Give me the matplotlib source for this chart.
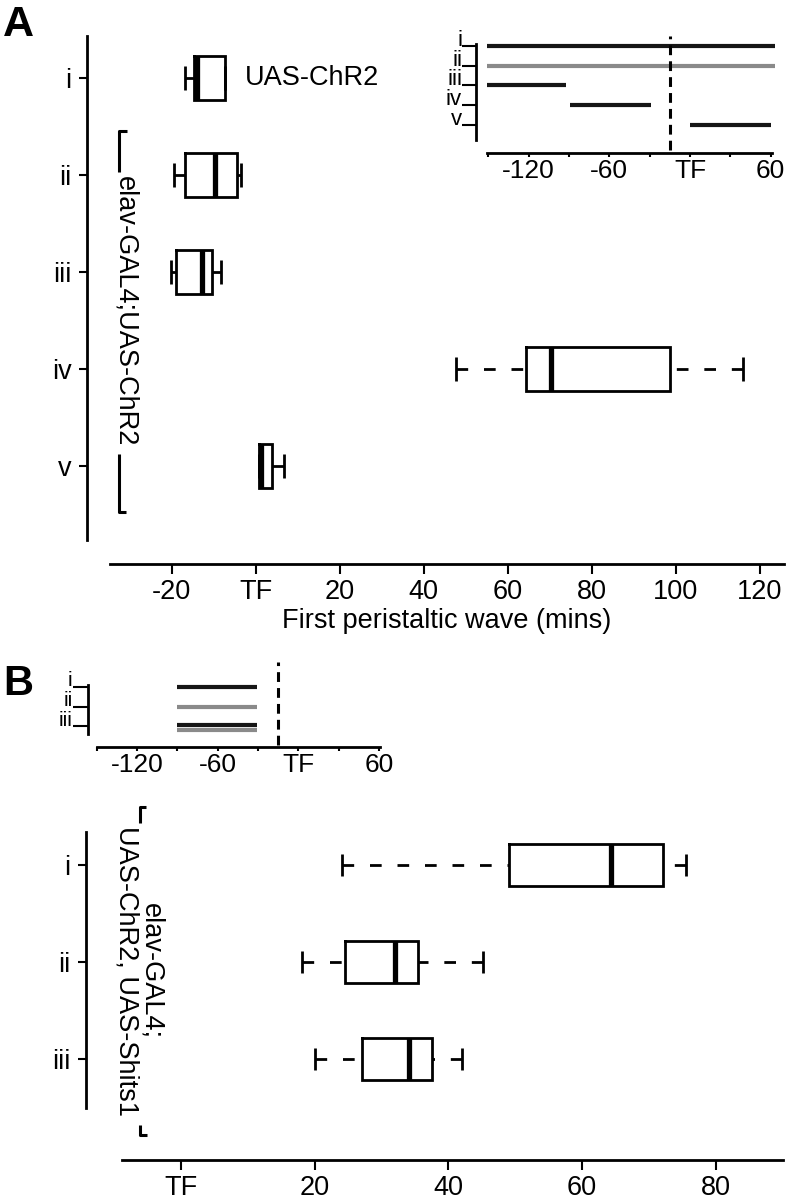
import matplotlib
matplotlib.use('Agg')
import matplotlib.pyplot as plt
from matplotlib.lines import Line2D

plt.rcParams['font.family'] = ['Liberation Sans', 'DejaVu Sans']

W, H = 792, 1200

# Panel A: first peristaltic wave, minutes relative to TF (box summaries)
a_rows = ['i', 'ii', 'iii', 'iv', 'v']
a_low = [-16.8, -19.4, -20.2, 47.7, 0.9]
a_q1 = [-14.7, -16.8, -19.0, 64.3, 0.9]
a_med = [-14.0, -9.7, -12.8, 70.2, 1.2]
a_q3 = [-7.3, -4.5, -10.4, 98.6, 3.8]
a_high = [-7.3, -3.6, -8.3, 116.1, 6.7]
a_xticks = [-20, 0, 20, 40, 60, 80, 100, 120]
a_xlabels = ['-20', 'TF', '20', '40', '60', '80', '100', '120']

# Panel A inset: stimulation windows (mins)
a_win_start = [-151, -151, -151, -89, 0]
a_win_end = [63, 63, -92, -29, 60]
a_win_color = ['#161616', '#8a8a8a', '#161616', '#161616', '#161616']

# Panel B
b_rows = ['i', 'ii', 'iii']
b_low = [24.0, 18.05, 20.0]
b_q1 = [49.0, 24.5, 27.0]
b_med = [64.3, 32.0, 34.1]
b_q3 = [72.1, 35.5, 37.6]
b_high = [75.6, 45.1, 42.0]
b_xticks = [0, 20, 40, 60, 80]
b_xlabels = ['TF', '20', '40', '60', '80']

# Panel B inset: windows (iii shows both a black and a grey bar)
b_win_row = [1, 2, 3, 3]
b_win_start = [-90.5, -90.5, -90.5, -90.5]
b_win_end = [-30.5, -30.5, -30.5, -30.5]
b_win_color = ['#161616', '#8a8a8a', '#161616', '#8a8a8a']
b_win_shift = [0.04, 0.04, -0.08, 0.17]

inset_xticks = [-150, -120, -90, -60, -30, 0, 30, 60]
inset_xlabels = ['', '-120', '', '-60', '', 'TF', '', '60']
stim_time = -15

FS = 19.5
fig = plt.figure(figsize=(W / 100, H / 100), dpi=100)


def px_axes(left, top, right, bottom):
    return fig.add_axes([left / W, 1 - bottom / H, (right - left) / W, (bottom - top) / H])


def px_line(xs, ys, lw=2.2):
    fig.add_artist(Line2D([x / W for x in xs], [1 - y / H for y in ys],
                          color='black', lw=lw, solid_capstyle='butt'))


def draw_boxes(ax, rows, lo, q1, med, q3, hi, width, capw):
    stats = [dict(label=r, whislo=a, q1=b, med=c, q3=d, whishi=e)
             for r, a, b, c, d, e in zip(rows, lo, q1, med, q3, hi)]
    kw = dict(positions=range(1, len(rows) + 1), widths=width, capwidths=capw,
              showfliers=False, manage_ticks=False,
              boxprops=dict(color='black', lw=2, solid_joinstyle='miter'),
              medianprops=dict(color='black', lw=3.8, solid_capstyle='butt'),
              whiskerprops=dict(color='black', lw=2, linestyle=(0, (4.2, 5.7))),
              capprops=dict(color='black', lw=2, solid_capstyle='butt'))
    try:
        res = ax.bxp(stats, orientation='horizontal', **kw)
    except TypeError:
        res = ax.bxp(stats, vert=False, **kw)
    # start dashes at the cap end, like R
    for wl in res['whiskers']:
        wl.set_xdata(list(wl.get_xdata())[::-1])
        wl.set_dash_capstyle('butt')
    return res


def style_axis(ax, left_out, bounds):
    for s in ['top', 'right']:
        ax.spines[s].set_visible(False)
    ax.spines['left'].set_position(('outward', left_out))
    ax.spines['left'].set_bounds(*bounds)
    for s in ['left', 'bottom']:
        ax.spines[s].set_linewidth(2)
    ax.set_facecolor('none')


# ---- Panel A main
ax = px_axes(110, 36, 784, 564)
draw_boxes(ax, a_rows, a_low, a_q1, a_med, a_q3, a_high, 0.46, 0.25)
ax.set_xlim(-34.7, 125.8)
ax.set_ylim(6.01, 0.567)
style_axis(ax, 16.6, (0.567, 5.763))
ax.set_yticks(range(1, 6))
ax.set_yticklabels(a_rows)
ax.set_xticks(a_xticks)
ax.set_xticklabels(a_xlabels)
ax.tick_params(axis='y', length=6, width=1.5, pad=5, labelsize=FS)
ax.tick_params(axis='x', length=7, width=1.5, pad=4, labelsize=FS)
ax.set_xlabel('First peristaltic wave (mins)', fontsize=FS, labelpad=2)
ax.text(-2.5, 1, 'UAS-ChR2', fontsize=FS, va='center', ha='left')

# ---- Panel A inset
ai = px_axes(485.7, 36, 773.3, 153)
for k in range(len(a_win_start)):
    ai.plot([a_win_start[k], a_win_end[k]], [k + 1, k + 1], color=a_win_color[k],
            lw=3, solid_capstyle='butt', clip_on=False)
ai.axvline(stim_time, ymin=0.026, ymax=1, color='black', lw=2.2,
           linestyle=(0, (3.2, 2.0)), zorder=5)
ai.set_xlim(-152, 62)
ai.set_ylim(6.418, 0.494)
style_axis(ai, 7, (0.9, 5.76))
ai.spines['bottom'].set_bounds(-151, 61)
ai.set_yticks(range(1, 6))
ai.set_yticklabels(a_rows)
ai.set_xticks(inset_xticks)
ai.set_xticklabels(inset_xlabels)
ai.tick_params(axis='y', length=10, width=1.5, pad=0, labelsize=16)
ai.tick_params(axis='x', length=3, width=1.5, pad=1, labelsize=19)
for lab in ai.get_yticklabels():
    lab.set_va('baseline')

# ---- Panel B inset
bi = px_axes(95.4, 661, 381, 747.3)
for k in range(len(b_win_row)):
    y = b_win_row[k] + b_win_shift[k]
    bi.plot([b_win_start[k], b_win_end[k]], [y, y], color=b_win_color[k],
            lw=3, solid_capstyle='butt', clip_on=False)
bi.axvline(stim_time, ymin=0.027, ymax=0.99, color='black', lw=2.2,
           linestyle=(0, (3.2, 2.0)), zorder=5)
bi.set_xlim(-151, 61.5)
bi.set_ylim(4.04, -0.275)
style_axis(bi, 5.5, (0.925, 3.375))
bi.spines['bottom'].set_bounds(-150, 61)
bi.set_yticks(range(1, 4))
bi.set_yticklabels(b_rows)
bi.set_xticks(inset_xticks)
bi.set_xticklabels(inset_xlabels)
bi.tick_params(axis='y', length=11, width=1.5, pad=0, labelsize=15)
bi.tick_params(axis='x', length=3, width=1.5, pad=1, labelsize=19)
for lab in bi.get_yticklabels():
    lab.set_va('baseline')

# ---- Panel B main
bx = px_axes(122, 832, 783, 1160)
draw_boxes(bx, b_rows, b_low, b_q1, b_med, b_q3, b_high, 0.43, 0.22)
bx.set_xlim(-8.9, 90.1)
bx.set_ylim(4.041, 0.66)
style_axis(bx, 26, (0.66, 3.505))
bx.set_yticks(range(1, 4))
bx.set_yticklabels(b_rows)
bx.set_xticks(b_xticks)
bx.set_xticklabels(b_xlabels)
bx.tick_params(axis='y', length=6, width=1.5, pad=5, labelsize=FS)
bx.tick_params(axis='x', length=7, width=1.5, pad=4, labelsize=FS)

# genotype labels with bracket ends
fig.text(125 / W, 1 - 311 / H, 'elav-GAL4;UAS-ChR2', rotation=-90,
         ha='center', va='center', fontsize=FS)
px_line([127, 119.5, 119.5], [131, 131, 172])
px_line([118.5, 118.5, 126], [454, 512, 512])
fig.text(138.5 / W, 1 - 971 / H, 'elav-GAL4;\nUAS-ChR2, UAS-Shits1', rotation=-90,
         ha='center', va='center', fontsize=FS, multialignment='center', linespacing=0.95)
px_line([146, 139.5, 139.5], [807, 807, 823])
px_line([139.5, 139.5, 147], [1125, 1135, 1135])

fig.text(3 / W, 1 - 5 / H, 'A', fontsize=31, fontweight='bold', ha='left', va='top')
fig.text(3 / W, 1 - 664 / H, 'B', fontsize=30, fontweight='bold', ha='left', va='top')

fig.savefig('out.png', dpi=100, facecolor='white')
